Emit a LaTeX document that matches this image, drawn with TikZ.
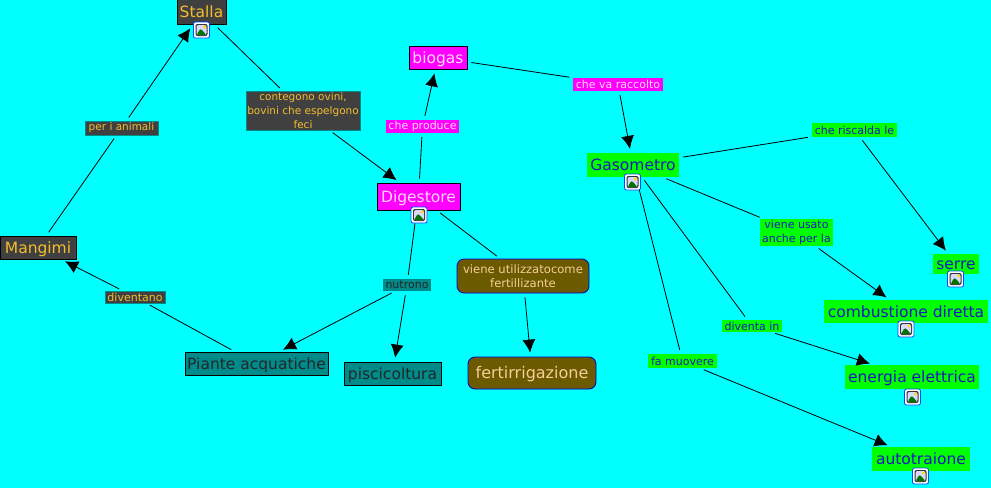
\documentclass[tikz,border=0pt]{standalone}
\usepackage{fontspec}
\setmainfont{DejaVu Sans}
\usetikzlibrary{arrows.meta}

\definecolor{sfondo}{HTML}{00FFFF}
\definecolor{grigio}{HTML}{404040}
\definecolor{oro}{HTML}{F2BE2E}
\definecolor{fucsia}{HTML}{FF00FF}
\definecolor{rosa}{HTML}{FFD8FF}
\definecolor{verde}{HTML}{00FF00}
\definecolor{blu}{HTML}{1818C0}
\definecolor{petrolio}{HTML}{008B8B}
\definecolor{oliva}{HTML}{6B5A00}
\definecolor{sabbia}{HTML}{F6CE98}

\tikzstyle{big}=[font=\fontsize{15.5}{17}\selectfont,inner sep=0,align=center,text height=12pt,text depth=1pt]
\tikzstyle{small}=[font=\fontsize{11}{14}\selectfont,inner sep=0,align=center]
\tikzstyle{scuro}=[fill=grigio,text=oro,draw=black,line width=0.9pt]
\tikzstyle{scurolab}=[fill=grigio,text=oro,draw=petrolio,line width=0.5pt]
\tikzstyle{magenta}=[fill=fucsia,text=rosa,draw=black,line width=0.9pt]
\tikzstyle{magentalab}=[fill=fucsia,text=rosa]
\tikzstyle{prato}=[fill=verde,text=blu]
\tikzstyle{acqua}=[fill=petrolio,text=black!85,draw=black,line width=0.9pt]
\tikzstyle{acqualab}=[fill=petrolio,text=black!85]
\tikzstyle{terra}=[fill=oliva,text=sabbia,draw=blue!80!black,line width=0.8pt,rounded corners=7pt]
\tikzstyle{link}=[black,line width=0.8pt,shorten <=4pt,shorten >=4pt]
\tikzstyle{linkar}=[link,-{Latex[length=13pt,width=13pt]}]
\tikzstyle{imgicon}=[draw=blue!70!cyan,fill=white,rounded corners=2pt,line width=0.8pt,inner sep=0,minimum size=16pt,path picture={
      \fill[black!80] ([shift={(2pt,2pt)}]path picture bounding box.south west) rectangle ([shift={(-2pt,-2pt)}]path picture bounding box.north east);
      \fill[blue!15] ([shift={(3pt,3pt)}]path picture bounding box.south west) rectangle ([shift={(-3pt,-3pt)}]path picture bounding box.north east);
      \fill[yellow!80!orange] ([shift={(-5pt,-5pt)}]path picture bounding box.north east) circle (1.6pt);
      \fill[green!45!black] ([shift={(3pt,3pt)}]path picture bounding box.south west) -- ([shift={(7pt,9.5pt)}]path picture bounding box.south west) -- ([shift={(-3pt,3pt)}]path picture bounding box.south east) -- cycle;}]

\begin{document}
\begin{tikzpicture}[x=1pt,y=-1pt]
\useasboundingbox[fill=sfondo] (0,0) rectangle (991,488);

% left side
\node[big,scuro,minimum width=49pt,minimum height=25pt] (stalla) at (201.5,12) {Stalla};
\node[big,scuro,minimum width=76pt,minimum height=23pt] (mangimi) at (38,247.5) {Mangimi};
\node[small,scurolab,font=\fontsize{10.5}{14}\selectfont,minimum width=73pt,minimum height=14pt] (animali) at (121.5,128) {per i animali};
\node[small,scurolab,font=\fontsize{10.5}{14}\selectfont,minimum width=114pt,minimum height=39pt] (contegono) at (303,110.5) {contegono ovini,\\bovini che espelgono\\feci};
\node[small,scurolab,minimum width=60pt,minimum height=12pt] (diventano) at (135,297) {diventano};
\node[big,acqua,minimum width=143pt,minimum height=23pt] (piante) at (256.5,363.5) {Piante acquatiche};

% middle
\node[big,magenta,minimum width=83pt,minimum height=27pt] (digestore) at (418.5,196.5) {Digestore};
\node[big,magenta,minimum width=58pt,minimum height=23pt] (biogas) at (438,57.5) {biogas};
\node[small,magentalab,minimum width=73pt,minimum height=13pt] (produce) at (422.5,126.5) {che produce};
\node[small,magentalab,minimum width=90pt,minimum height=13pt] (raccolto) at (618,84.5) {che va raccolto};
\node[small,acqualab,minimum width=48pt,minimum height=12pt] (nutrono) at (407,285) {nutrono};
\node[big,acqua,minimum width=97pt,minimum height=23pt] (piscicoltura) at (392.5,373.5) {piscicoltura};
\node[small,terra,font=\fontsize{11.6}{14}\selectfont,minimum width=132pt,minimum height=34pt] (fertilizzante) at (523,276) {viene utilizzatocome\\fertillizante};
\node[big,terra,font=\fontsize{16}{17}\selectfont,minimum width=128pt,minimum height=32pt] (fertirrigazione) at (532,373) {fertirrigazione};

% right side
\node[big,prato,minimum width=92pt,minimum height=24pt] (gasometro) at (633,165) {Gasometro};
\node[small,prato,minimum width=85pt,minimum height=14pt] (riscalda) at (854.5,130) {che riscalda le};
\node[small,prato,minimum width=73pt,minimum height=27pt] (usato) at (796.5,232.5) {viene usato\\anche per la};
\node[small,prato,minimum width=60pt,minimum height=12pt] (diventa) at (752,326) {diventa in};
\node[small,prato,minimum width=69pt,minimum height=14pt] (muovere) at (682.5,361) {fa muovere};
\node[big,prato,minimum width=46pt,minimum height=20pt] (serre) at (956,264) {serre};
\node[big,prato,minimum width=164pt,minimum height=23pt] (combustione) at (906,311.5) {combustione diretta};
\node[big,prato,minimum width=134pt,minimum height=24pt] (energia) at (912,377) {energia elettrica};
\node[big,prato,minimum width=98pt,minimum height=24pt] (autotraione) at (921,459) {autotraione};

% connectors
\draw[link] (mangimi) -- (animali);
\draw[linkar] (animali) -- (stalla);
\draw[link] (stalla) -- (contegono);
\draw[linkar] (contegono) -- (digestore);
\draw[link] (digestore) -- (produce);
\draw[linkar] (produce) -- (biogas);
\draw[link] (biogas) -- (raccolto);
\draw[linkar] (raccolto) -- (gasometro);
\draw[link] (digestore) -- (nutrono);
\draw[linkar] (nutrono) -- (piante);
\draw[linkar] (nutrono) -- (piscicoltura);
\draw[link] (digestore) -- (fertilizzante);
\draw[linkar] (fertilizzante) -- (fertirrigazione);
\draw[link] (piante) -- (diventano);
\draw[linkar] (diventano) -- (mangimi);
\draw[link] (gasometro) -- (riscalda);
\draw[linkar] (riscalda) -- (serre);
\draw[link] (gasometro) -- (usato);
\draw[linkar] (usato) -- (combustione);
\draw[link] (gasometro) -- (diventa);
\draw[linkar] (diventa) -- (energia);
\draw[link] (gasometro) -- (muovere);
\draw[linkar] (muovere) -- (autotraione);

% icons
\node[imgicon] (stallaimg) at (201.5,30) {};
\node[imgicon] (digestoreimg) at (419,215) {};
\node[imgicon] (gasometroimg) at (632.5,182) {};
\node[imgicon] (serreimg) at (955.5,279) {};
\node[imgicon] (combustioneimg) at (906,329) {};
\node[imgicon] (energiaimg) at (912.5,397) {};
\node[imgicon] (autotraioneimg) at (920.5,476) {};
\end{tikzpicture}
\end{document}
